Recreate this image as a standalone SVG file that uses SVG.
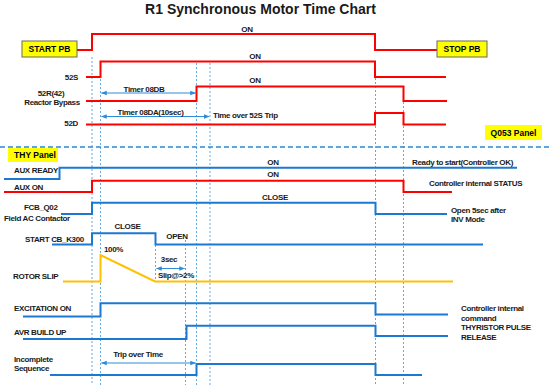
<svg xmlns="http://www.w3.org/2000/svg" width="550" height="387" viewBox="0 0 550 387">
<style>
.t{font-family:"Liberation Sans",Arial,sans-serif;font-weight:bold;font-size:8px;letter-spacing:-0.35px;fill:#1a1a1a}
.m{text-anchor:middle}
.e{text-anchor:end}
.bx{font-family:"Liberation Sans",Arial,sans-serif;font-weight:bold;font-size:8.5px;fill:#000;text-anchor:middle}
.ti{font-family:"Liberation Sans",Arial,sans-serif;font-weight:bold;font-size:14px;fill:#1a1a1a;text-anchor:middle}
.r{stroke:#FF0000;stroke-width:2;fill:none}
.b{stroke:#1C78D0;stroke-width:2;fill:none}
.o{stroke:#FFC000;stroke-width:2;fill:none}
.v{stroke:#64A8E4;stroke-width:1;stroke-dasharray:2,2;fill:none}
.sep{stroke:#2E86D6;stroke-width:1.5;stroke-dasharray:5,3;fill:none}
.ar{stroke:#2E8BD8;stroke-width:1;fill:none;marker-start:url(#ah);marker-end:url(#ah)}
.ybox{fill:#FFFF00}
</style>
<defs>
<marker id="ah" viewBox="0 0 8 8" refX="7" refY="4" markerWidth="6" markerHeight="6" orient="auto-start-reverse" markerUnits="userSpaceOnUse">
<path d="M0,1 L8,4 L0,7 z" fill="#2E8BD8"/>
</marker>
</defs>
<rect width="550" height="387" fill="#fff"/>
<text class="ti" x="260.5" y="13.5">R1 Synchronous Motor Time Chart</text>

<g id="guides">
<line class="v" x1="92" y1="57" x2="92" y2="385"/>
<line class="v" x1="100.5" y1="79" x2="100.5" y2="385"/>
<line class="v" x1="196.5" y1="63" x2="196.5" y2="385"/>
<line class="v" x1="210" y1="63" x2="210" y2="385"/>
<line class="v" x1="375.5" y1="78" x2="375.5" y2="385"/>
<line class="v" x1="403.5" y1="102" x2="403.5" y2="385"/>
<line class="v" x1="155.5" y1="245" x2="155.5" y2="281"/>
<line class="v" x1="185.5" y1="240" x2="185.5" y2="385"/>
<line class="sep" x1="0" y1="147" x2="550" y2="147"/>
</g>

<g id="start-pb">
<rect class="ybox" x="22" y="41" width="55" height="16" stroke="#666" stroke-width="1"/>
<text class="bx" x="49.5" y="52">START PB</text>
<polyline class="r" points="77,50 92,50 92,34 375,34 375,50 437,50"/>
<text class="t m" x="247" y="32">ON</text>
</g>
<g id="stop-pb">
<rect class="ybox" x="437" y="41" width="50" height="16" stroke="#666" stroke-width="1"/>
<text class="bx" x="462" y="52">STOP PB</text>
</g>

<g id="sig-52s">
<text class="t e" x="78" y="79.5">52S</text>
<polyline class="r" points="86,77 100.5,77 100.5,61.5 375,61.5 375,77 446,77"/>
<text class="t m" x="255" y="59">ON</text>
</g>
<g id="sig-52r">
<text class="t m" x="51" y="96">52R(42)</text>
<text class="t m" x="52" y="104.5">Reactor Bypass</text>
<polyline class="r" points="86,101 196.5,101 196.5,86.5 403.5,86.5 403.5,101 447,101"/>
<text class="t m" x="255" y="83">ON</text>
</g>
<g id="sig-52d">
<text class="t e" x="78" y="126">52D</text>
<polyline class="r" points="86,124.5 375,124.5 375,113 403.5,113 403.5,124.5 446,124.5"/>
<text class="t" x="213" y="118">Time over 52S Trip</text>
</g>

<g id="q053-panel">
<rect class="ybox" x="485" y="125" width="57" height="15"/>
<text class="bx" x="513.5" y="135.5">Q053 Panel</text>
</g>
<g id="thy-panel">
<rect class="ybox" x="8" y="148" width="50" height="14"/>
<text class="bx" x="35" y="157.5">THY Panel</text>
</g>

<g id="aux-ready">
<text class="t" x="14" y="173">AUX READY</text>
<polyline class="b" points="4,179 59.5,179 59.5,167.7 517,167.7"/>
<text class="t m" x="273" y="165">ON</text>
<text class="t" x="412" y="165">Ready to start(Controller  OK)</text>
</g>
<g id="aux-on">
<text class="t" x="14" y="190">AUX ON</text>
<polyline class="r" points="4,192 92,192 92,180.7 403.5,180.7 403.5,192 452,192"/>
<text class="t m" x="273" y="177">ON</text>
<text class="t" x="429" y="186">Controller internal STATUS</text>
</g>
<g id="fcb-q02">
<text class="t" x="24" y="210">FCB_Q02</text>
<text class="t" x="4" y="221">Field AC Contactor</text>
<polyline class="b" points="61,214 92,214 92,202.7 375.5,202.7 375.5,214 447,214"/>
<text class="t m" x="275" y="199.5">CLOSE</text>
<text class="t" x="451" y="212.5">Open 5sec after</text>
<text class="t" x="451" y="222">INV Mode</text>
</g>
<g id="start-cb">
<text class="t" x="25" y="242">START CB_K300</text>
<polyline class="b" points="52,244.5 92,244.5 92,233.3 155.5,233.3 155.5,244.5 483,244.5"/>
<text class="t m" x="127.5" y="229">CLOSE</text>
<text class="t m" x="177" y="238.5">OPEN</text>
</g>
<g id="rotor-slip">
<text class="t" x="13" y="279">ROTOR SLIP</text>
<polyline class="o" points="63,281.5 100.5,281.5 100.5,255 155,281.5 453,281.5"/>
<text class="t" x="104" y="252">100%</text>
<text class="t m" x="169" y="262">3sec</text>
<text class="t" x="158" y="278">Slip@&gt;2%</text>
</g>
<g id="excitation-on">
<text class="t" x="14" y="311">EXCITATION ON</text>
<polyline class="b" points="23,316.5 100.5,316.5 100.5,303.3 375.5,303.3 375.5,314.5 448,314.5"/>
<text class="t" x="461" y="311">Controller internal</text>
<text class="t" x="461" y="320.5">command</text>
</g>
<g id="avr-build-up">
<text class="t" x="14" y="335">AVR BUILD UP</text>
<polyline class="b" points="23,339 186.5,339 186.5,325.7 375.5,325.7 375.5,336 448,336"/>
<text class="t" x="461" y="330">THYRISTOR PULSE</text>
<text class="t" x="461" y="339.5">RELEASE</text>
</g>
<g id="incomplete-seq">
<text class="t" x="14" y="362">Incomplete</text>
<text class="t" x="14" y="371">Sequence</text>
<polyline class="b" points="50,375 196.5,375 196.5,364 375.5,364 375.5,375 422,375"/>
<text class="t m" x="138" y="357">Trip over Time</text>
</g>

<g id="connectors">
<line class="ar" x1="101.5" y1="93" x2="195.5" y2="93"/>
<text class="t m" x="144" y="91.5">Timer 08DB</text>
<line class="ar" x1="101.5" y1="116.5" x2="209" y2="116.5"/>
<text class="t m" x="150.5" y="115">Timer 08DA(10sec)</text>
<line class="ar" x1="156.5" y1="268.5" x2="184.5" y2="268.5"/>
<line class="ar" x1="101.5" y1="363" x2="195.5" y2="363"/>
</g>
</svg>
